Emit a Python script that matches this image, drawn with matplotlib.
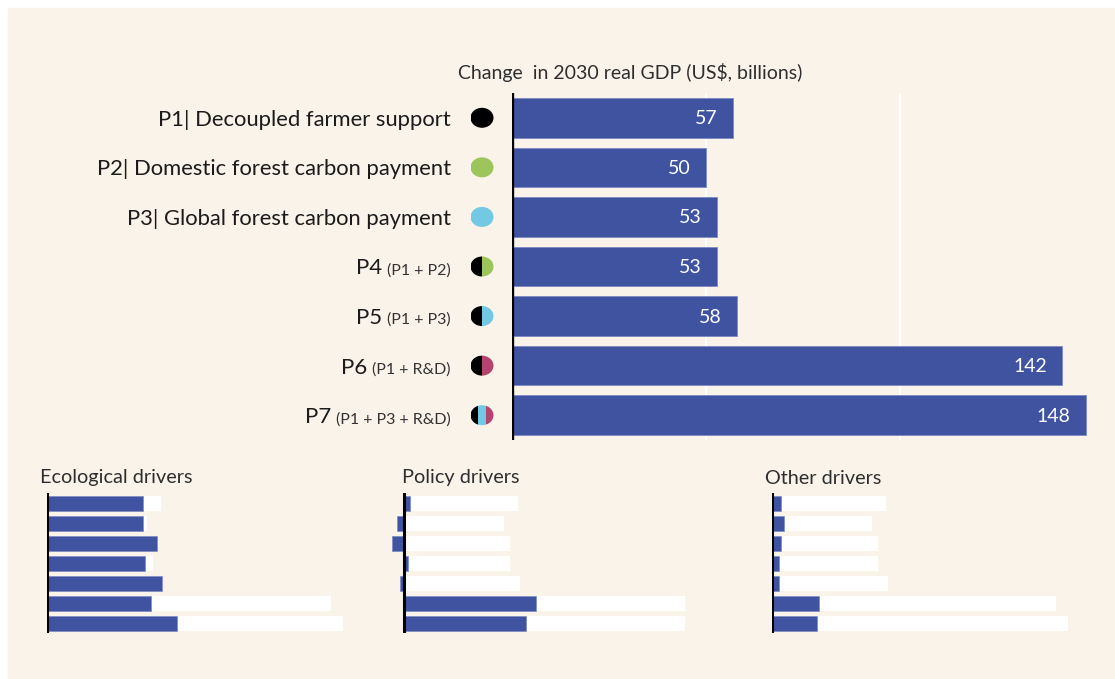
import matplotlib.pyplot as plt
from matplotlib.patches import Ellipse, Rectangle


# ============================================
# Change in 2030 real GDP by policy scenario,
# with the split into ecological / policy / other drivers
# ============================================

scenarios = ["P1", "P2", "P3", "P4", "P5", "P6", "P7"]
scenario_names = [
    "Decoupled farmer support",
    "Domestic forest carbon payment",
    "Global forest carbon payment",
    "",
    "",
    "",
    "",
]
scenario_combos = ["", "", "", "(P1 + P2)", "(P1 + P3)", "(P1 + R&D)", "(P1 + P3 + R&D)"]
gdp_change = [57, 50, 53, 53, 58, 142, 148]

ecological_drivers = [48, 48, 55, 49, 57.5, 52, 65]
policy_drivers = [3, -3.5, -6, 1.8, -2, 66, 61]
other_drivers = [4.7, 6, 4.7, 3.3, 3.3, 23.5, 22.3]

marker_colors = [
    ["black"],
    ["green"],
    ["blue"],
    ["black", "green"],
    ["black", "blue"],
    ["black", "crimson"],
    ["black", "blue", "crimson"],
]

COLORS = {
    "black": "#000000",
    "green": "#9CC65B",
    "blue": "#73C8E4",
    "crimson": "#B4436F",
}
BAR = "#3F53A0"
BAR_EDGE = "#7D8BC3"
CREAM = "#FAF3E9"
TEXT = "#1B1B1B"
SOFT = "#2E2E2E"
FONT = "Lato"

W, H = 1115, 679


def px_box(left, top, right, bottom):
    # pixel box -> figure fraction [l, b, w, h]
    return [left / W, 1 - bottom / H, (right - left) / W, (bottom - top) / H]


def draw_main(fig):
    ax = fig.add_axes(px_box(512, 93, 1101, 440))
    ax.set_facecolor("none")
    y = list(range(len(scenarios)))
    for g in (50, 100):
        ax.axvline(g, color="white", lw=1.6, zorder=0)
    ax.barh(y, gdp_change, height=0.8, color=BAR, edgecolor=BAR_EDGE, lw=0.6, zorder=2)
    ax.axvline(0, color="black", lw=2.4, zorder=3)
    ax.set_xlim(0, 152)
    ax.set_ylim(6.5, -0.5)
    ax.axis("off")

    for yi, v in zip(y, gdp_change):
        ax.annotate(str(v), (v, yi + 0.02), xytext=(-11, 0), textcoords="offset points",
                    ha="right", va="center", color="white", fontsize=14, family=FONT)

    renderer = fig.canvas.get_renderer()
    label_x = (451 - 512) / 589
    trans = ax.get_yaxis_transform()
    for yi, code, name, combo in zip(y, scenarios, scenario_names, scenario_combos):
        if name:
            ax.text(label_x, yi + 0.04, f"{code}| {name}", transform=trans, ha="right",
                    va="center", fontsize=15.8, color=TEXT, family=FONT)
        else:
            small = ax.text(label_x, yi + 0.08, combo, transform=trans, ha="right",
                            va="center", fontsize=11.5, color="#333333", family=FONT)
            bb = small.get_window_extent(renderer)
            ax.annotate(code, (label_x, yi + 0.04), xycoords=trans,
                        xytext=(-(bb.width + 5) * 72 / fig.dpi, 0),
                        textcoords="offset points", ha="right", va="center",
                        fontsize=16, color=TEXT, family=FONT)
    return ax


def draw_markers(fig):
    ax = fig.add_axes(px_box(466, 93, 498, 440))
    ax.set_xlim(0, 1)
    ax.set_ylim(6.5, -0.5)
    ax.axis("off")
    ew, eh = 23 / 32, 20 / 49.6
    for yi, parts in enumerate(marker_colors):
        n = len(parts)
        x0 = 0.5 - ew / 2
        for i, c in enumerate(parts):
            e = Ellipse((0.5, yi), ew, eh, color=COLORS[c], lw=0)
            ax.add_patch(e)
            clip = Rectangle((x0 + i * ew / n, yi - eh), ew / n, 2 * eh,
                             transform=ax.transData)
            e.set_clip_path(clip)


def draw_driver_panel(fig, box, xlim, values, title, title_x):
    ax = fig.add_axes(px_box(*box))
    ax.set_facecolor("none")
    y = list(range(len(values)))
    ax.barh(y, gdp_change, height=0.75, color="white", lw=0, zorder=1)
    ax.barh(y, values, height=0.75, color=BAR, edgecolor=BAR_EDGE, lw=0.5, zorder=2)
    ax.axvline(0, color="black", lw=2.2, zorder=3)
    ax.set_xlim(*xlim)
    ax.set_ylim(6.5, -0.5)
    ax.axis("off")
    fig.text(title_x / W, 1 - 478 / H, title, ha="left", va="center",
             fontsize=14.3, color=SOFT, family=FONT)


def main() -> None:
    plt.rcParams["font.family"] = [FONT, "DejaVu Sans"]
    fig = plt.figure(figsize=(W / 100, H / 100), dpi=100)
    fig.patch.set_facecolor("white")
    fig.patches.append(Rectangle((8 / W, 0), 1, 1 - 8 / H, transform=fig.transFigure,
                                 color=CREAM, zorder=-10))

    draw_main(fig)
    draw_markers(fig)
    fig.text(458 / W, 1 - 72 / H, "Change  in 2030 real GDP (US$, billions)",
             ha="left", va="center", fontsize=14, color=SOFT, family=FONT)

    draw_driver_panel(fig, (47, 493, 347, 633), (0, 150), ecological_drivers,
                      "Ecological drivers", 40)
    draw_driver_panel(fig, (390, 493, 685, 633), (-7, 140.5), policy_drivers,
                      "Policy drivers", 402)
    draw_driver_panel(fig, (772, 493, 1072, 633), (0, 150), other_drivers,
                      "Other drivers", 765)

    fig.savefig("out.png", dpi=100, facecolor="white")


if __name__ == "__main__":
    main()
